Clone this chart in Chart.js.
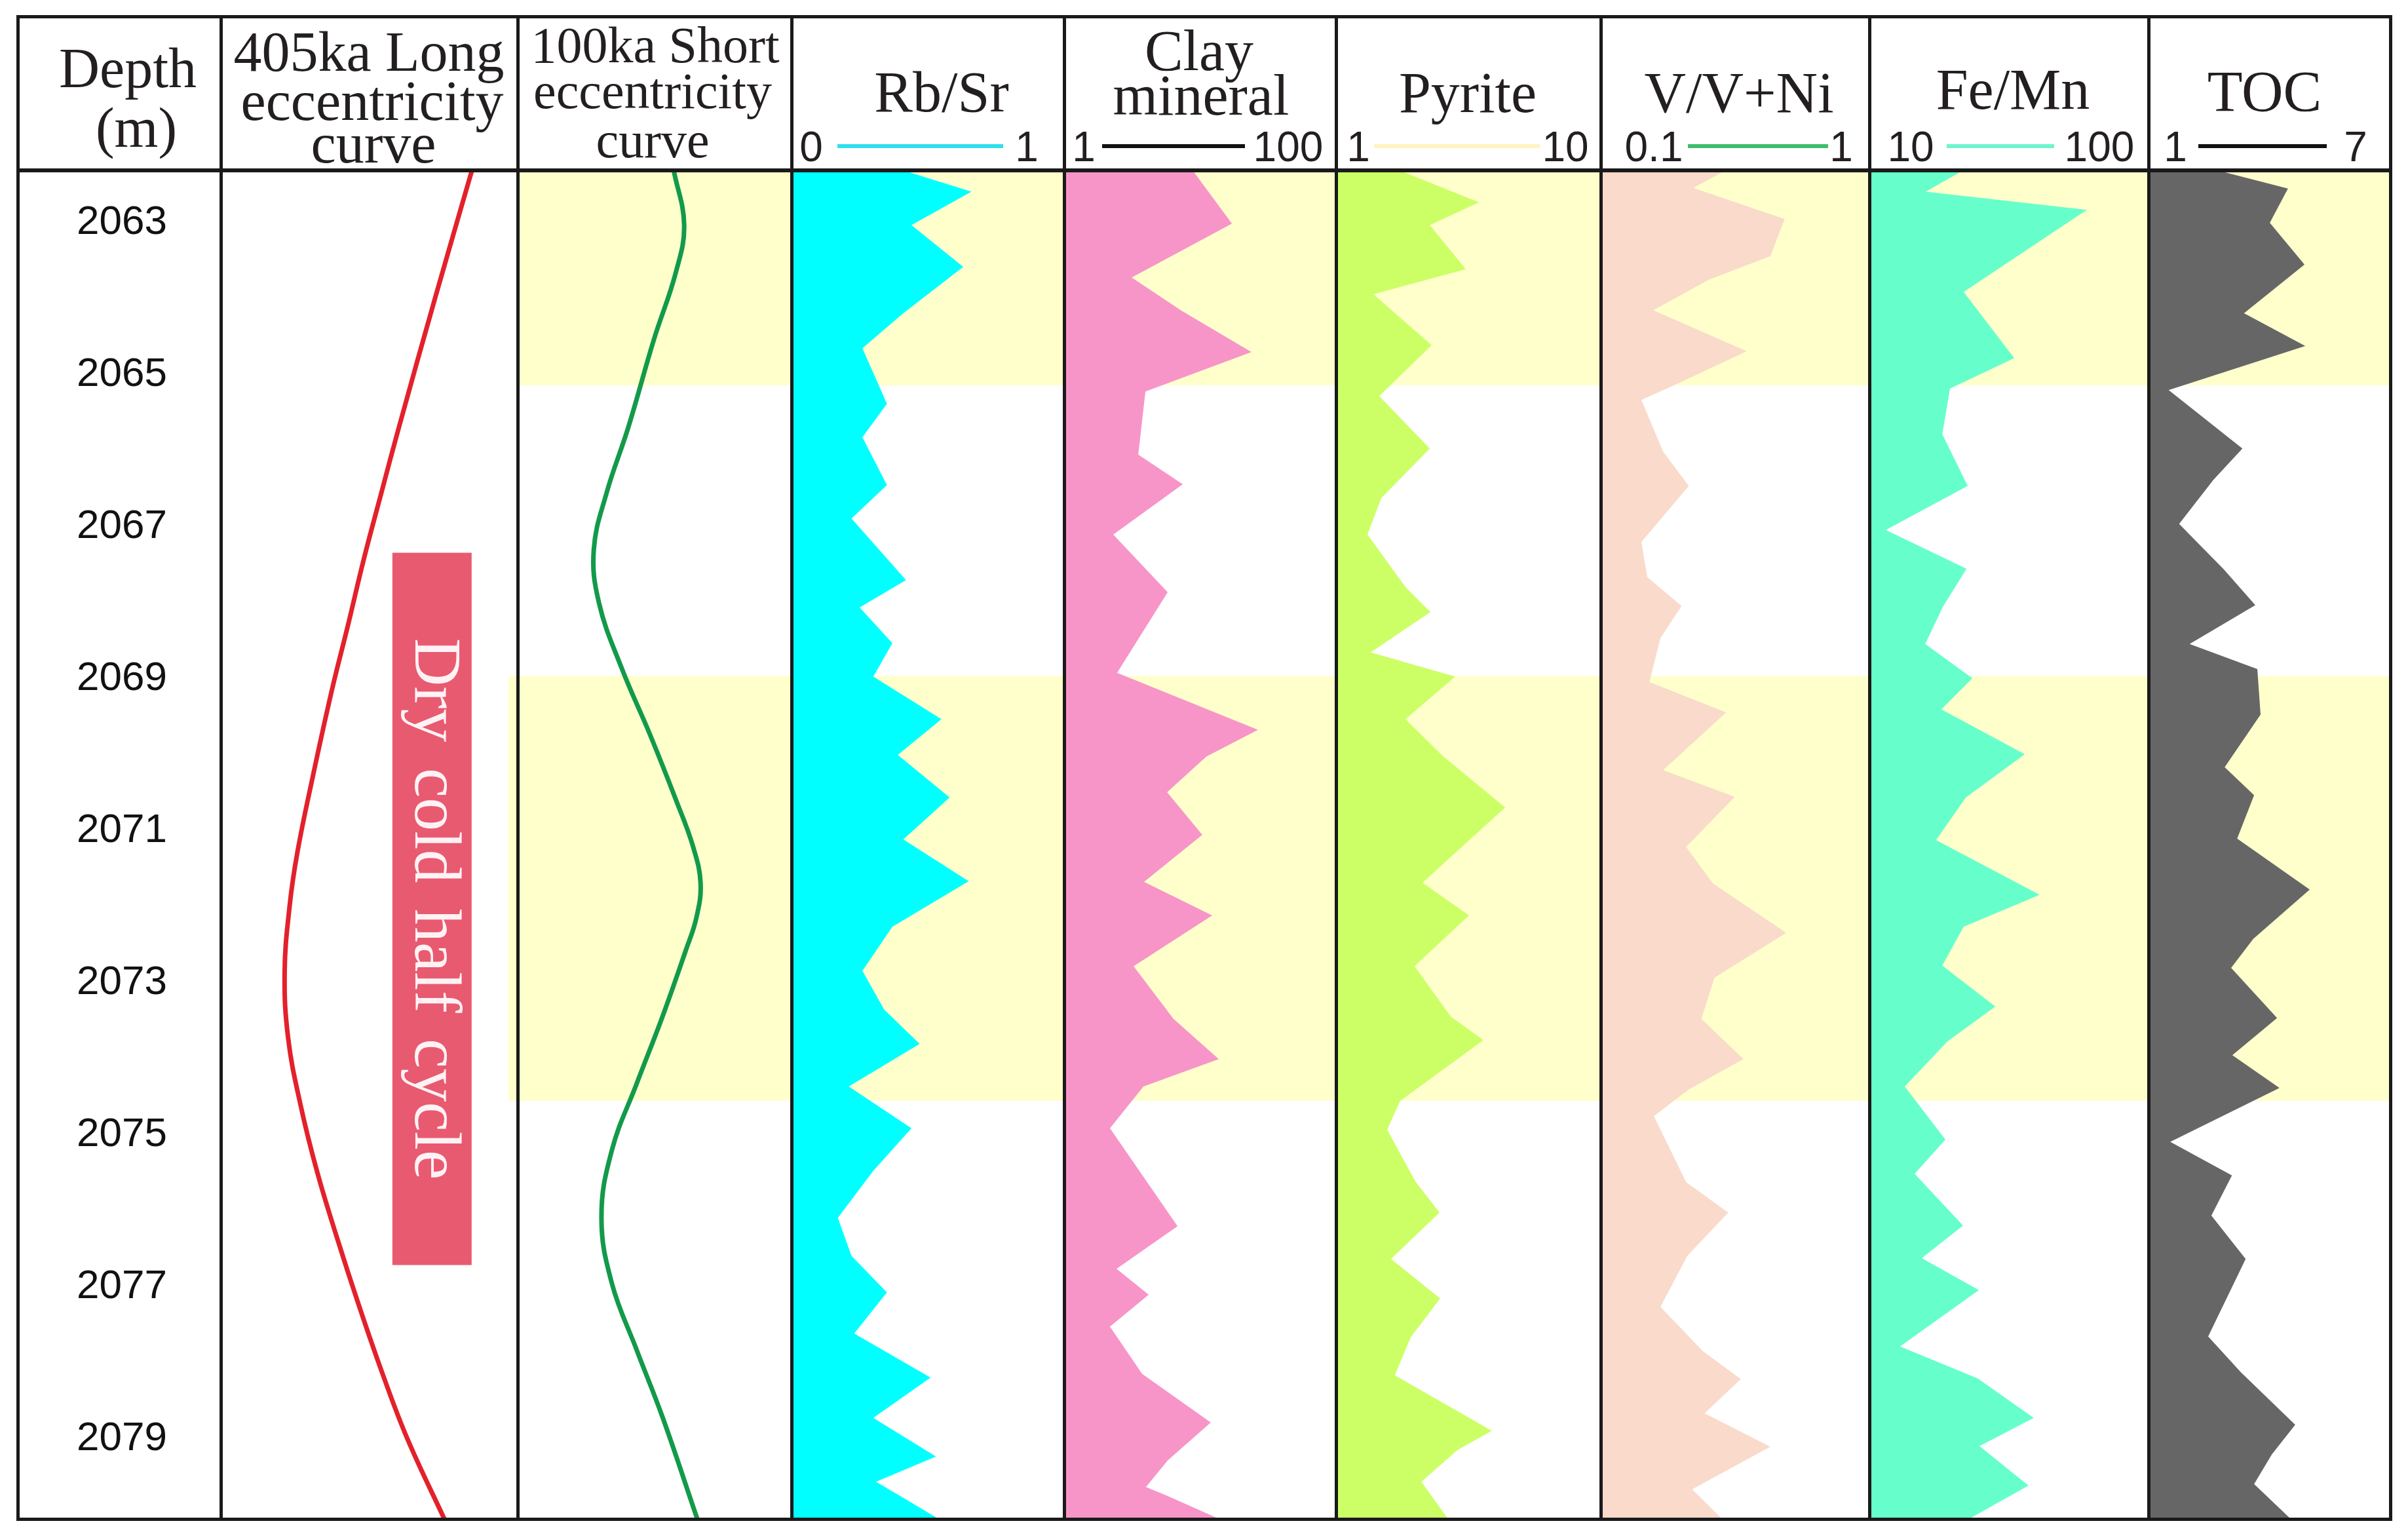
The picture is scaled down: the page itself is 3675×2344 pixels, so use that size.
<!DOCTYPE html>
<html>
<head>
<meta charset="utf-8">
<title>Eccentricity and geochemical proxies vs depth</title>
<script src="https://cdn.jsdelivr.net/npm/chart.js@4.4.1/dist/chart.umd.min.js"></script>
<style>
  html, body { margin: 0; padding: 0; background: #fff; }
  #page { position: relative; width: 3675px; height: 2344px; overflow: hidden; background: #fff; }
  #page canvas { position: absolute; }
  .t { position: absolute; white-space: nowrap; line-height: 1; color: #231f20; }
  .rule { position: absolute; background: #1a1a1a; }
  .key { position: absolute; height: 6px; }
</style>
</head>
<body>
<div id="page"></div>
<script>
// depth axis
const depthMin = 2062.31;
const depthMax = 2080.05;
const depthTicks = [2063, 2065, 2067, 2069, 2071, 2073, 2075, 2077, 2079];

// shaded (yellow) intervals and the dry cold half cycle
const bandTop = [2062.31, 2068.96];
const bandBottom = [2065.14, 2074.55];
const dryCycle = [2067.34, 2076.71];

// 405ka long eccentricity curve (relative units)
const longEccDepth = [2062.31, 2063.96, 2065.69, 2066.55, 2067.42, 2068.30, 2069.15, 2070.30, 2071.28, 2071.98, 2072.86, 2073.73, 2074.61, 2075.49, 2076.37, 2077.25, 2078.12, 2079.00, 2080.05];
const longEccValue = [0.846, 0.724, 0.600, 0.541, 0.482, 0.428, 0.374, 0.309, 0.258, 0.232, 0.215, 0.227, 0.269, 0.325, 0.393, 0.466, 0.543, 0.629, 0.753];

// 100ka short eccentricity curve (relative units)
const shortEccDepth = [2062.31, 2063.03, 2063.66, 2064.53, 2065.69, 2066.55, 2067.30, 2068.00, 2068.86, 2069.73, 2070.60, 2071.20, 2071.69, 2072.15, 2072.57, 2073.44, 2074.32, 2075.20, 2076.08, 2076.95, 2077.83, 2078.71, 2080.05];
const shortEccValue = [0.570, 0.608, 0.577, 0.498, 0.404, 0.325, 0.278, 0.297, 0.380, 0.483, 0.579, 0.640, 0.668, 0.652, 0.614, 0.529, 0.435, 0.344, 0.306, 0.344, 0.435, 0.529, 0.656];

// Rb/Sr (0 - 1)
const rbsrDepth = [2062.31, 2062.59, 2063.03, 2063.58, 2064.19, 2064.65, 2065.38, 2065.82, 2066.45, 2066.89, 2067.70, 2068.06, 2068.53, 2068.97, 2069.53, 2070.00, 2070.56, 2071.11, 2071.66, 2072.26, 2072.84, 2073.35, 2073.80, 2074.36, 2074.91, 2075.47, 2076.09, 2076.59, 2077.07, 2077.61, 2078.19, 2078.72, 2079.23, 2079.56, 2079.75, 2080.05];
const rbsrValue = [0.41, 0.66, 0.44, 0.63, 0.41, 0.26, 0.35, 0.26, 0.35, 0.22, 0.42, 0.25, 0.37, 0.30, 0.55, 0.39, 0.58, 0.41, 0.65, 0.37, 0.26, 0.34, 0.47, 0.21, 0.44, 0.30, 0.17, 0.22, 0.35, 0.23, 0.51, 0.30, 0.53, 0.31, 0.40, 0.54];

// Clay mineral (1 - 100)
const clayDepth = [2062.31, 2063.01, 2063.72, 2064.15, 2064.70, 2065.22, 2066.05, 2066.44, 2067.10, 2067.86, 2068.92, 2069.67, 2070.02, 2070.49, 2071.05, 2071.67, 2072.11, 2072.78, 2073.47, 2074.00, 2074.36, 2074.91, 2076.20, 2076.76, 2077.10, 2077.52, 2078.14, 2078.78, 2079.28, 2079.63, 2079.74, 2080.05];
const clayValue = [47.8, 62.1, 25.6, 43.5, 69.2, 30.6, 28.0, 44.2, 18.9, 38.7, 20.3, 71.6, 52.8, 38.5, 51.3, 30.1, 54.9, 26.3, 40.8, 57.3, 29.9, 17.7, 42.3, 20.1, 31.8, 17.7, 29.4, 54.4, 38.7, 30.8, 38.2, 57.5];

// Pyrite (1 - 10)
const pyriteDepth = [2062.31, 2062.73, 2063.03, 2063.61, 2063.94, 2064.61, 2065.28, 2065.97, 2066.62, 2067.10, 2067.79, 2068.12, 2068.65, 2068.97, 2069.53, 2070.02, 2070.69, 2071.68, 2072.11, 2072.78, 2073.44, 2073.75, 2074.55, 2074.93, 2075.61, 2076.02, 2076.63, 2077.15, 2077.66, 2078.16, 2078.89, 2079.14, 2079.56, 2080.05];
const pyriteValue = [3.16, 5.86, 4.19, 5.41, 2.27, 4.25, 2.47, 4.19, 2.54, 2.07, 3.36, 4.21, 2.18, 5.05, 3.36, 4.65, 6.75, 3.94, 5.52, 3.67, 4.90, 6.01, 3.18, 2.74, 3.70, 4.52, 2.87, 4.54, 3.54, 3.00, 6.30, 5.14, 3.90, 4.81];

// V/V+Ni (0.1 - 1)
const vniDepth = [2062.31, 2062.54, 2062.95, 2063.44, 2063.75, 2064.15, 2064.69, 2065.14, 2065.33, 2066.01, 2066.46, 2067.20, 2067.66, 2068.04, 2068.46, 2069.04, 2069.44, 2070.20, 2070.55, 2071.21, 2071.69, 2072.34, 2072.93, 2073.47, 2074.00, 2074.40, 2074.75, 2075.62, 2076.02, 2076.59, 2077.26, 2077.84, 2078.21, 2078.66, 2079.10, 2079.66, 2080.05];
const vniValue = [0.518, 0.410, 0.716, 0.668, 0.461, 0.276, 0.589, 0.344, 0.236, 0.309, 0.395, 0.236, 0.256, 0.371, 0.300, 0.263, 0.520, 0.309, 0.549, 0.386, 0.476, 0.721, 0.481, 0.437, 0.578, 0.395, 0.278, 0.386, 0.527, 0.390, 0.300, 0.441, 0.569, 0.448, 0.668, 0.406, 0.507];

// Fe/Mn (10 - 100)
const femnDepth = [2062.31, 2062.59, 2062.83, 2063.91, 2064.78, 2065.18, 2065.78, 2066.46, 2067.04, 2067.55, 2068.05, 2068.54, 2068.99, 2069.40, 2069.99, 2070.56, 2071.12, 2071.84, 2072.26, 2072.77, 2073.31, 2073.77, 2074.36, 2075.06, 2075.51, 2076.19, 2076.62, 2077.04, 2077.78, 2078.20, 2078.72, 2079.09, 2079.61, 2080.05];
const femnValue = [40.2, 28.2, 80.1, 40.4, 56.7, 36.0, 33.5, 41.7, 15.3, 41.3, 33.7, 28.0, 43.2, 33.2, 60.1, 41.1, 31.5, 64.9, 40.4, 33.5, 50.6, 35.1, 21.4, 34.5, 24.6, 40.2, 26.9, 45.3, 19.9, 44.9, 63.0, 45.5, 61.3, 42.1];

// TOC (1 - 7)
const tocDepth = [2062.31, 2062.55, 2063.00, 2063.55, 2064.19, 2064.62, 2065.20, 2065.97, 2066.38, 2066.96, 2067.56, 2068.03, 2068.54, 2068.87, 2069.47, 2070.16, 2070.53, 2071.10, 2071.77, 2072.42, 2072.80, 2073.46, 2073.95, 2074.38, 2075.09, 2075.53, 2076.06, 2076.63, 2077.65, 2078.12, 2078.81, 2079.20, 2079.59, 2080.05];
const tocValue = [2.71, 4.46, 4.01, 4.87, 3.37, 4.89, 1.50, 3.33, 2.61, 1.76, 2.87, 3.65, 2.02, 3.70, 3.78, 2.89, 3.62, 3.20, 5.00, 3.60, 3.05, 4.19, 3.08, 4.25, 1.54, 3.07, 2.56, 3.41, 2.48, 3.29, 4.64, 4.06, 3.62, 4.53];

// layout
const SERIF = '"Liberation Serif", "Times New Roman", serif';
const SANS = '"Liberation Sans", Arial, sans-serif';
const colEdges = [27, 337, 790, 1208, 1624, 2039, 2443, 2853, 3279, 3648];
const TOP = 260, BOTTOM = 2318;
const BAND = '#ffffcc';

const page = document.getElementById('page');

function makeCanvas(left, right) {
  const c = document.createElement('canvas');
  c.width = right - left;
  c.height = BOTTOM - TOP;
  c.style.left = left + 'px';
  c.style.top = TOP + 'px';
  page.appendChild(c);
  return c.getContext('2d');
}

function toPoints(depths, values) {
  return depths.map((d, i) => ({ x: values[i], y: d }));
}

// yellow intervals behind the curves
const bandPlugin = {
  id: 'bands',
  beforeDatasetsDraw(chart, args, opts) {
    const { ctx, chartArea, scales: { y } } = chart;
    ctx.save();
    ctx.fillStyle = opts.color;
    bandTop.forEach((top, i) => {
      if (opts.only && !opts.only.includes(i)) return;
      const y1 = y.getPixelForValue(top);
      const y2 = y.getPixelForValue(bandBottom[i]);
      const x1 = opts.width ? chartArea.right - opts.width : chartArea.left;
      ctx.fillRect(x1, y1, chartArea.right - x1, y2 - y1);
    });
    ctx.restore();
  }
};

// red box with the rotated label in the 405ka column
const dryBoxPlugin = {
  id: 'dryBox',
  afterDatasetsDraw(chart, args, o) {
    const { ctx, scales: { x, y } } = chart;
    const x1 = x.getPixelForValue(o.from), x2 = x.getPixelForValue(o.to);
    const y1 = y.getPixelForValue(dryCycle[0]), y2 = y.getPixelForValue(dryCycle[1]);
    ctx.save();
    ctx.fillStyle = o.color;
    ctx.fillRect(x1, y1, x2 - x1, y2 - y1);
    ctx.translate(x1 + (x2 - x1) * 0.29, (y1 + y2) / 2);
    ctx.rotate(Math.PI / 2);
    ctx.font = '102px ' + SERIF;
    if ('wordSpacing' in ctx) ctx.wordSpacing = '14px';
    ctx.textAlign = 'center';
    ctx.textBaseline = 'alphabetic';
    ctx.fillStyle = o.textColor;
    ctx.fillText(o.label, 0, 0);
    ctx.restore();
  }
};

function baseOptions(xMin, xMax, bandOpts) {
  return {
    indexAxis: 'y',
    responsive: false,
    animation: false,
    events: [],
    layout: { padding: 0, autoPadding: false },
    elements: { point: { radius: 0 } },
    plugins: { legend: { display: false }, tooltip: { enabled: false }, bands: bandOpts },
    scales: {
      x: { type: 'linear', min: xMin, max: xMax, display: false },
      y: { type: 'linear', min: depthMin, max: depthMax, reverse: true, display: false }
    }
  };
}

function logColumn(col, depths, values, xMin, xMax, color) {
  return new Chart(makeCanvas(colEdges[col], colEdges[col + 1]), {
    type: 'line',
    data: {
      datasets: [{
        data: toPoints(depths, values),
        borderColor: 'rgba(0,0,0,0)',
        borderWidth: 1,
        backgroundColor: color,
        fill: { value: xMin },
        tension: 0
      }]
    },
    options: baseOptions(xMin, xMax, { color: BAND }),
    plugins: [bandPlugin]
  });
}

// depth labels + 405ka curve share one chart
const depthOpts = baseOptions(0, 1, { color: BAND, only: [1], width: 14 });
depthOpts.plugins.dryBox = { from: 0.578, to: 0.845, color: '#e85a70', textColor: '#fff2f4', label: 'Dry cold half cycle' };
depthOpts.scales.y = {
  type: 'linear', min: depthMin, max: depthMax, reverse: true, position: 'left',
  border: { display: false },
  grid: { display: false, drawTicks: false },
  afterBuildTicks(scale) { scale.ticks = depthTicks.map(v => ({ value: v })); },
  afterFit(scale) { scale.width = colEdges[1] - colEdges[0]; scale.paddingTop = 0; scale.paddingBottom = 0; },
  ticks: { padding: 82, autoSkip: false, color: '#111', font: { family: SANS, size: 62 }, callback: v => String(v) }
};
new Chart(makeCanvas(colEdges[0], colEdges[2]), {
  type: 'line',
  data: { datasets: [{ data: toPoints(longEccDepth, longEccValue), borderColor: '#e3212b', borderWidth: 7, fill: false, tension: 0.4 }] },
  options: depthOpts,
  plugins: [bandPlugin, dryBoxPlugin]
});

// 100ka short eccentricity
new Chart(makeCanvas(colEdges[2], colEdges[3]), {
  type: 'line',
  data: { datasets: [{ data: toPoints(shortEccDepth, shortEccValue), borderColor: '#129a4a', borderWidth: 7, fill: false, tension: 0.4 }] },
  options: baseOptions(0, 1, { color: BAND }),
  plugins: [bandPlugin]
});

logColumn(3, rbsrDepth, rbsrValue, 0, 1, '#00ffff');
logColumn(4, clayDepth, clayValue, 1, 100, '#f795c9');
logColumn(5, pyriteDepth, pyriteValue, 1, 10, '#ccff66');
logColumn(6, vniDepth, vniValue, 0.1, 1, '#f9dacb');
logColumn(7, femnDepth, femnValue, 10, 100, '#66ffcc');
logColumn(8, tocDepth, tocValue, 1, 7, '#666666');

// header text
function addText(txt, cx, baseline, size, family) {
  const d = document.createElement('div');
  d.className = 't';
  d.textContent = txt;
  d.style.fontFamily = family;
  d.style.fontSize = size + 'px';
  const asc = family === SERIF ? 0.8375 : 0.8465;
  d.style.top = (baseline - asc * size) + 'px';
  d.style.left = cx + 'px';
  d.style.transform = 'translateX(-50%)';
  page.appendChild(d);
}

addText('Depth', 195, 133, 86, SERIF);
addText('(m)', 208, 224, 86, SERIF);
addText('405ka Long', 563, 108, 86, SERIF);
addText('eccentricity', 568, 183, 86, SERIF);
addText('curve', 570, 248, 86, SERIF);
addText('100ka Short', 1000, 95, 78, SERIF);
addText('eccentricity', 996, 165, 78, SERIF);
addText('curve', 996, 240, 78, SERIF);
addText('Rb/Sr', 1437, 171, 88, SERIF);
addText('Clay', 1830, 108, 88, SERIF);
addText('mineral', 1833, 176, 88, SERIF);
addText('Pyrite', 2240, 172, 88, SERIF);
addText('V/V+Ni', 2654, 172, 88, SERIF);
addText('Fe/Mn', 3072, 167, 88, SERIF);
addText('TOC', 3456, 170, 88, SERIF);

// scale keys under the titles
const keyText = [['0', 1238], ['1', 1567], ['1', 1654], ['100', 1966], ['1', 2073], ['10', 2389],
  ['0.1', 2524], ['1', 2810], ['10', 2916], ['100', 3204], ['1', 3320], ['7', 3595]];
keyText.forEach(([t, x]) => addText(t, x, 246, 64, SANS));

const keyLines = [[1278, 1531, '#2fe0ee'], [1682, 1900, '#111'], [2097, 2350, '#fff4bf'],
  [2576, 2790, '#3dbe6c'], [2971, 3135, '#6ef5d0'], [3355, 3551, '#111']];
keyLines.forEach(([x1, x2, c]) => {
  const d = document.createElement('div');
  d.className = 'key';
  d.style.left = x1 + 'px';
  d.style.width = (x2 - x1) + 'px';
  d.style.top = '220px';
  d.style.background = c;
  page.appendChild(d);
});

// table frame
function rule(x, y, w, h) {
  const d = document.createElement('div');
  d.className = 'rule';
  d.style.left = x + 'px'; d.style.top = y + 'px';
  d.style.width = w + 'px'; d.style.height = h + 'px';
  page.appendChild(d);
}
rule(colEdges[0] - 2, 23, colEdges[9] - colEdges[0] + 5, 5);
rule(colEdges[0] - 2, TOP - 3, colEdges[9] - colEdges[0] + 5, 6);
rule(colEdges[0] - 2, BOTTOM - 2, colEdges[9] - colEdges[0] + 5, 5);
colEdges.forEach(x => rule(x - 2, 23, 5, BOTTOM - 23 + 3));
</script>
</body>
</html>
